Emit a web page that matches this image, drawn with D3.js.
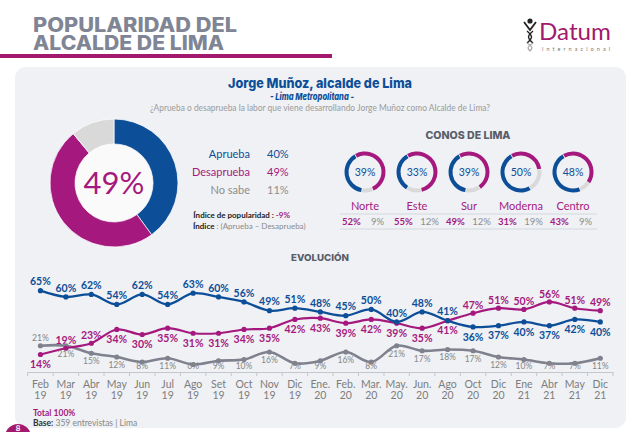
<!DOCTYPE html>
<html><head><meta charset="utf-8">
<script src="https://cdn.jsdelivr.net/npm/d3@7"></script>
<style>body{margin:0;background:#fff}svg{display:block}</style>
</head><body><svg id="c" width="640" height="432"></svg>
<script>
// ---------- DATA ----------
const months = ["Feb","Mar","Abr","May","Jun","Jul","Ago","Set","Oct","Nov","Dic","Ene.","Feb.","Mar.","May.","Jun.","Ago","Oct","Dic","Ene","Abr","May","Dic"];
const years  = ["19","19","19","19","19","19","19","19","19","19","19","20","20","20","20","20","20","20","20","21","21","21","21"];
const aprueba    = [65,60,62,54,62,54,63,60,56,49,51,48,45,50,40,48,41,36,37,40,37,42,40];
const desaprueba = [14,19,23,34,30,35,31,31,34,35,42,43,39,42,39,35,41,47,51,50,56,51,49];
const noSabe     = [21,21,15,12,8,11,6,9,10,16,7,9,16,8,21,17,18,17,12,10,7,7,11];
const totalLabels = ["Aprueba","Desaprueba","No sabe"];
const totalValues = [40,49,11];
const indicePopularidad = -9;
const conos = ["Norte","Este","Sur","Moderna","Centro"];
const conosAprueba    = [39,33,39,50,48];
const conosDesaprueba = [52,55,49,31,43];
const conosNoSabe     = [9,12,12,19,9];

// label placement (a = above, b = below)
const aprSide = "aaaaaaaaaaaaaaaaabbbbbb".split("");
const desSide = "baabbbbbbbbbbbbbbaaaaaa".split("");
const nsSide  = "abbbbbbbbbbbbbbbbbbbbbb".split("");

// ---------- STYLE ----------
const BLUE = "#0d4e98", MAG = "#a5197f", GRAY = "#80818e", LGRAY = "#d9d9d9";
const BODY = "Lato, 'Open Sans', sans-serif";
const HEAD = "Inter, 'DejaVu Sans', sans-serif";

const svg = d3.select("#c");

// panel
svg.append("rect").attr("x",15).attr("y",67).attr("width",611).attr("height",361)
  .attr("rx",11).attr("fill","#eff1f4");

// title
const tt = [["POPULARIDAD DEL",32,204],["ALCALDE DE LIMA",50,191]];
tt.forEach(([t,y,w])=>{
  svg.append("text").attr("x",33).attr("y",y).text(t)
    .attr("font-family",HEAD).attr("font-weight",800).attr("font-size",19.5)
    .attr("fill","#7f8595").attr("textLength",w).attr("lengthAdjust","spacingAndGlyphs");
});
svg.append("rect").attr("x",0).attr("y",54).attr("width",332).attr("height",4).attr("fill","#a3196e");

// logo
const lg = svg.append("g");
lg.append("circle").attr("cx",530).attr("cy",21).attr("r",2.6).attr("fill","#222");
lg.append("path").attr("d","M524,22 L530,30 L536,22").attr("fill","none").attr("stroke","#222").attr("stroke-width",1.8);
lg.append("path").attr("d","M527,31 C533,36 533,38 527,43 M533,31 C527,36 527,38 533,43").attr("fill","none").attr("stroke","#222").attr("stroke-width",1.4);
lg.append("path").attr("d","M527,43 C533,47 533,48 530,51 M533,43 C527,47 527,48 530,51").attr("fill","none").attr("stroke","#aaa").attr("stroke-width",1.3);
lg.append("text").attr("x",539).attr("y",40).text("Datum").attr("font-family",BODY)
  .attr("font-size",24).attr("fill","#a3196e").attr("textLength",72).attr("lengthAdjust","spacingAndGlyphs");
lg.append("text").attr("x",542).attr("y",51).text("internacional").attr("font-family",BODY)
  .attr("font-size",5.5).attr("fill","#777").attr("textLength",68).attr("lengthAdjust","spacing");

// header
svg.append("text").attr("x",320).attr("y",88).attr("text-anchor","middle").text("Jorge Muñoz, alcalde de Lima")
  .attr("font-family",HEAD).attr("font-weight",800).attr("font-size",13.5).attr("fill",BLUE)
  .attr("textLength",184).attr("lengthAdjust","spacingAndGlyphs");
svg.append("text").attr("x",312).attr("y",100).attr("text-anchor","middle").text("- Lima Metropolitana -")
  .attr("font-family",HEAD).attr("font-weight",800).attr("font-style","italic").attr("font-size",9.5).attr("fill",BLUE)
  .attr("textLength",84).attr("lengthAdjust","spacingAndGlyphs");
svg.append("text").attr("x",320).attr("y",111).attr("text-anchor","middle")
  .text("¿Aprueba o desaprueba la labor que viene desarrollando Jorge Muñoz como Alcalde de Lima?")
  .attr("font-family",BODY).attr("font-size",9).attr("fill","#9b9b9b")
  .attr("textLength",340).attr("lengthAdjust","spacingAndGlyphs");

// main donut
const colorsMain = [BLUE, MAG, LGRAY];
const pie = d3.pie().sort(null).startAngle(0).endAngle(2*Math.PI);
const arcMain = d3.arc().innerRadius(39).outerRadius(64);
const gd = svg.append("g").attr("transform","translate(114,183)");
gd.append("circle").attr("r",39).attr("fill","#fafafb");
gd.selectAll("path").data(pie(totalValues)).join("path")
  .attr("d",arcMain).attr("fill",(d,i)=>colorsMain[i]).attr("stroke","#fff").attr("stroke-width",0.7);
gd.append("text").attr("text-anchor","middle").attr("dy","0.36em").text(totalValues[1]+"%")
  .attr("font-family",BODY).attr("font-size",31).attr("fill",MAG);

// legend
const legColors = [BLUE, MAG, "#8d8d8d"];
totalLabels.forEach((l,i)=>{
  const y = 154 + i*18;
  svg.append("text").attr("x",250).attr("y",y).attr("dy","0.35em").attr("text-anchor","end").text(l)
    .attr("font-family",BODY).attr("font-size",11).attr("fill",legColors[i]);
  svg.append("text").attr("x",267).attr("y",y).attr("dy","0.35em").text(totalValues[i]+"%")
    .attr("font-family",BODY).attr("font-size",11).attr("fill",legColors[i]);
});
const ip = svg.append("text").attr("x",290).attr("y",215).attr("dy","0.35em").attr("text-anchor","end")
  .attr("font-family",BODY).attr("font-size",8).attr("font-weight",700);
ip.append("tspan").text("Índice de popularidad : ").attr("fill","#222");
ip.append("tspan").text(" "+indicePopularidad+"%").attr("fill",MAG);
const ix = svg.append("text").attr("x",193).attr("y",226).attr("dy","0.35em")
  .attr("font-family",BODY).attr("font-size",8);
ix.append("tspan").text("Índice").attr("font-weight",700).attr("fill","#222");
ix.append("tspan").text(" : (Aprueba – Desaprueba)").attr("fill","#8a8a8a");

// conos de lima
svg.append("text").attr("x",468).attr("y",135).attr("dy","0.35em").attr("text-anchor","middle").text("CONOS DE LIMA")
  .attr("font-family",HEAD).attr("font-weight",800).attr("font-size",10.5).attr("fill","#585d69")
  .attr("textLength",85).attr("lengthAdjust","spacingAndGlyphs");
const xc = d3.scalePoint().domain(conos).range([365,573]);
const arcSmall = d3.arc().innerRadius(16.5).outerRadius(20.5);
const pieSmall = d3.pie().sort(null).startAngle(-30*Math.PI/180).endAngle(330*Math.PI/180).padAngle(0.03);
const smallColors = [MAG, LGRAY, BLUE];
conos.forEach((c,i)=>{
  const g = svg.append("g").attr("transform",`translate(${xc(c)},172)`);
  g.selectAll("path").data(pieSmall([conosDesaprueba[i],conosNoSabe[i],conosAprueba[i]])).join("path")
    .attr("d",arcSmall).attr("fill",(d,j)=>smallColors[j]);
  g.append("text").attr("text-anchor","middle").attr("dy","0.36em").text(conosAprueba[i]+"%")
    .attr("font-family",BODY).attr("font-size",10.5).attr("fill",BLUE);
  svg.append("text").attr("x",xc(c)).attr("y",206).attr("dy","0.35em").attr("text-anchor","middle").text(c)
    .attr("font-family",BODY).attr("font-size",11).attr("fill",MAG);
  svg.append("text").attr("x",xc(c)-13.5).attr("y",222).attr("dy","0.35em").attr("text-anchor","middle").text(conosDesaprueba[i]+"%")
    .attr("font-family",BODY).attr("font-size",9.5).attr("font-weight",700).attr("fill",MAG);
  svg.append("text").attr("x",xc(c)+12.5).attr("y",222).attr("dy","0.35em").attr("text-anchor","middle").text(conosNoSabe[i]+"%")
    .attr("font-family",BODY).attr("font-size",9.5).attr("fill","#8d8d8d");
});
[214,229].forEach(y=>svg.append("line").attr("x1",340).attr("x2",597).attr("y1",y).attr("y2",y)
  .attr("stroke","#d3d7dd").attr("stroke-width",1));

// evolucion
svg.append("text").attr("x",320).attr("y",258).attr("dy","0.35em").attr("text-anchor","middle").text("EVOLUCIÓN")
  .attr("font-family",HEAD).attr("font-weight",800).attr("font-size",9.5).attr("fill","#585d69")
  .attr("textLength",58).attr("lengthAdjust","spacingAndGlyphs");

const idx = d3.range(months.length);
const x = d3.scaleBand().domain(idx).range([27.7,613]);
const y = d3.scaleLinear().domain([0,65]).range([372,290.7]);
const cx = i => x(i) + x.bandwidth()/2;

// axis
const ax = svg.append("g").attr("transform","translate(0,372)")
  .call(d3.axisBottom(x).tickSize(0).tickFormat(""));
ax.select(".domain").attr("stroke","#c3c6cb");
const edges = idx.map(i=>x(i)).concat([x(idx.length-1)+x.bandwidth()]);
ax.selectAll("line.edge").data(edges).join("line").attr("class","edge")
  .attr("x1",d=>d).attr("x2",d=>d).attr("y1",0).attr("y2",4).attr("stroke","#c3c6cb");
idx.forEach(i=>{
  svg.append("text").attr("x",cx(i)).attr("y",384).attr("dy","0.35em").attr("text-anchor","middle").text(months[i])
    .attr("font-family",BODY).attr("font-size",10.5).attr("fill","#7d7d7d");
  svg.append("text").attr("x",cx(i)).attr("y",395).attr("dy","0.35em").attr("text-anchor","middle").text(years[i])
    .attr("font-family",BODY).attr("font-size",10.5).attr("fill","#7d7d7d");
});

const line = d3.line().x((d,i)=>cx(i)).y(d=>y(d)).curve(d3.curveCatmullRom.alpha(0.5));
const series = [
  {v:noSabe, c:GRAY, w:2.6, side:nsSide, fs:8.5, fw:400, lc:"#858585", up:-8, dn:8},
  {v:desaprueba, c:MAG, w:2.2, side:desSide, fs:10.5, fw:700, lc:MAG, up:-8, dn:10},
  {v:aprueba, c:BLUE, w:2.3, side:aprSide, fs:10.5, fw:700, lc:BLUE, up:-9, dn:10}
];
series.forEach(s=>{
  svg.append("path").attr("d",line(s.v)).attr("fill","none").attr("stroke",s.c).attr("stroke-width",s.w);
  svg.selectAll(null).data(s.v).join("circle").attr("cx",(d,i)=>cx(i)).attr("cy",d=>y(d)).attr("r",2.6).attr("fill",s.c);
});
series.forEach(s=>{
  svg.selectAll(null).data(s.v).join("text")
    .attr("x",(d,i)=>cx(i))
    .attr("y",(d,i)=>Math.min(y(d)+(s.side[i]==="a"?s.up:s.dn), 366))
    .attr("dy","0.35em").attr("text-anchor","middle").text(d=>d+"%")
    .attr("font-family",BODY).attr("font-size",s.fs).attr("font-weight",s.fw).attr("fill",s.lc);
});

// footer
svg.append("text").attr("x",33).attr("y",416).text("Total 100%").attr("font-family",BODY)
  .attr("font-size",8.5).attr("font-weight",700).attr("fill",MAG);
const bs = svg.append("text").attr("x",33).attr("y",426).attr("font-family",BODY).attr("font-size",8.5);
bs.append("tspan").text("Base:").attr("font-weight",700).attr("fill","#333");
bs.append("tspan").text(" 359 entrevistas  | Lima").attr("fill","#888");
svg.append("circle").attr("cx",18).attr("cy",437).attr("r",13).attr("fill","#a3196e");
svg.append("text").attr("x",18).attr("y",431).attr("text-anchor","middle").text("8").attr("font-family",BODY)
  .attr("font-size",8).attr("font-weight",700).attr("fill","#fff");
</script></body></html>
